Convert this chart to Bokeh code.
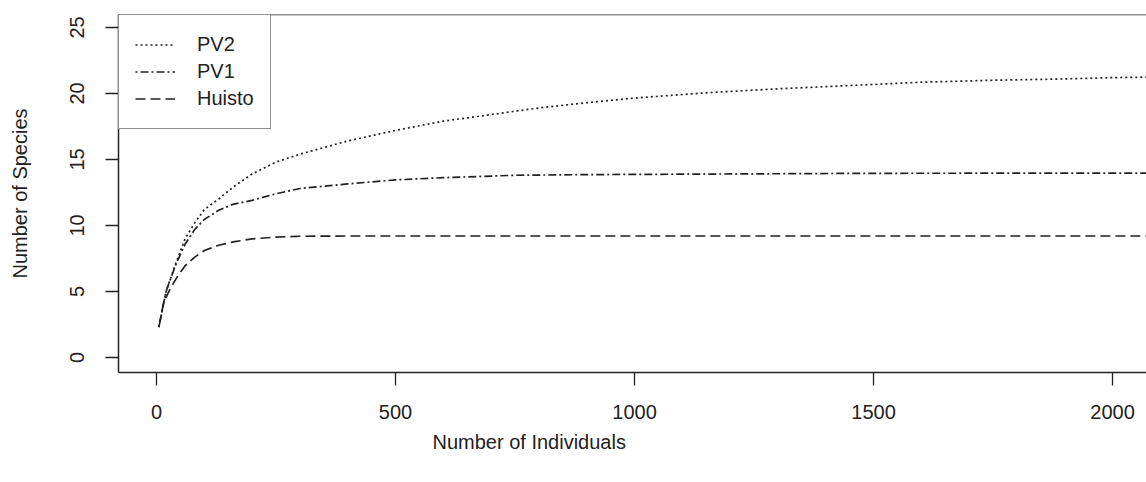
from bokeh.plotting import figure
from bokeh.models import Legend, LegendItem, Span, Title, Range1d, FixedTicker
from bokeh.embed import file_html
from bokeh.resources import INLINE

# Rarefaction curves
pv2_x = [5, 20, 40, 60, 80, 100, 130, 160, 200, 250, 300, 350, 400, 500, 600, 700,
         800, 900, 1000, 1150, 1300, 1450, 1600, 1750, 1900, 2000, 2100]
pv2_y = [2.3, 5.0, 7.1, 9.0, 10.2, 11.2, 12.0, 12.9, 13.9, 14.8, 15.4, 15.9, 16.4,
         17.2, 17.9, 18.4, 18.9, 19.3, 19.65, 20.05, 20.35, 20.6, 20.85, 21.0, 21.1,
         21.2, 21.25]

pv1_x = [5, 20, 40, 60, 80, 100, 130, 160, 200, 250, 300, 400, 500, 600, 750, 900,
         1200, 1500, 2100]
pv1_y = [2.3, 5.0, 7.0, 8.6, 9.7, 10.45, 11.15, 11.6, 11.9, 12.4, 12.8, 13.15, 13.45,
         13.62, 13.8, 13.85, 13.9, 13.95, 13.97]

hu_x = [5, 15, 30, 45, 60, 80, 100, 130, 160, 200, 250, 300, 400, 600, 1000, 2100]
hu_y = [2.3, 4.2, 5.3, 6.2, 6.95, 7.6, 8.1, 8.5, 8.75, 8.98, 9.12, 9.18, 9.2, 9.2,
        9.2, 9.2]

x_ticks = [0, 500, 1000, 1500, 2000]
y_ticks = [0, 5, 10, 15, 20, 25]
series_names = ["PV2", "PV1", "Huisto"]

FONT = "Liberation Sans"
INK = "#222222"

p = figure(width=1146, height=482, output_backend="svg", toolbar_location=None,
           x_range=Range1d(-79.5, 2071), y_range=Range1d(-1.14, 25.98),
           min_border_left=118, min_border_right=0, min_border_top=14,
           min_border_bottom=110)
p.outline_line_color = None
p.xgrid.visible = False
p.ygrid.visible = False
p.background_fill_color = "white"
p.border_fill_color = "white"

r2 = p.line(pv2_x, pv2_y, line_color=INK, line_width=1.7, line_dash="2 3")
r1 = p.line(pv1_x, pv1_y, line_color=INK, line_width=1.7, line_dash="2 3 8 3")
rh = p.line(hu_x, hu_y, line_color=INK, line_width=1.7, line_dash="10 5")

# top border of the box
p.add_layout(Span(location=25.98, dimension="width", line_color=INK, line_width=1.5))

for ax in (p.xaxis[0], p.yaxis[0]):
    ax.axis_line_color = INK
    ax.axis_line_width = 1.5
    ax.major_tick_line_color = INK
    ax.major_tick_line_width = 1.3
    ax.major_tick_out = 13
    ax.major_tick_in = 0
    ax.minor_tick_line_color = None
    ax.major_label_text_font = FONT
    ax.major_label_text_font_size = "20px"
    ax.major_label_text_color = INK

p.xaxis.ticker = FixedTicker(ticks=x_ticks)
p.yaxis.ticker = FixedTicker(ticks=y_ticks)
p.xaxis.major_label_standoff = 19
p.yaxis.major_label_standoff = 21
p.yaxis.major_label_orientation = "vertical"

p.yaxis.axis_label = "Number of Species"
p.yaxis.axis_label_text_font = FONT
p.yaxis.axis_label_text_font_size = "20px"
p.yaxis.axis_label_text_font_style = "normal"
p.yaxis.axis_label_text_color = INK
p.yaxis.axis_label_standoff = 37

# x-axis title (placed off-centre, as in the reference)
p.add_layout(Title(text="Number of Individuals", text_font=FONT,
                   text_font_size="20px", text_color=INK, text_font_style="normal",
                   align="left", offset=314, standoff=14), "below")

legend = Legend(items=[LegendItem(label=series_names[0], renderers=[r2]),
                       LegendItem(label=series_names[1], renderers=[r1]),
                       LegendItem(label=series_names[2], renderers=[rh])],
                location="top_left", margin=0, padding=16, spacing=0,
                label_height=27, glyph_height=27, glyph_width=40,
                label_standoff=22, label_text_font=FONT,
                label_text_font_size="20px", label_text_color=INK,
                border_line_color=INK, border_line_width=1.5,
                background_fill_alpha=1.0)
p.add_layout(legend)

open("out.html", "w").write(file_html(p, INLINE))
